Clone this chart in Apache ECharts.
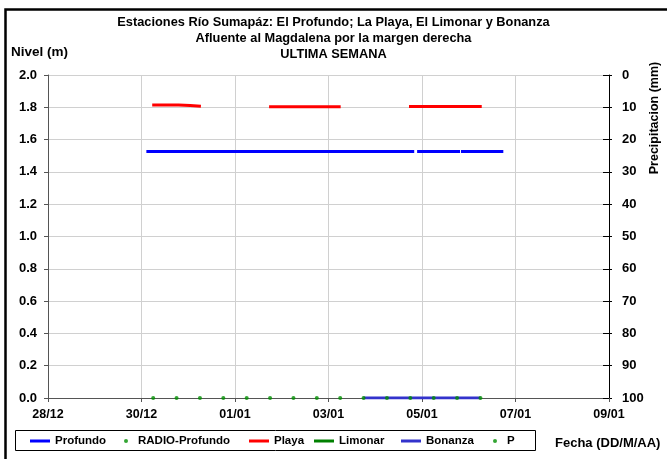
<!DOCTYPE html>
<html>
<head>
<meta charset="utf-8">
<script src="https://cdn.jsdelivr.net/npm/echarts@6/dist/echarts.min.js"></script>
<style>
html,body{margin:0;padding:0;background:#fff;}
#c{width:667px;height:459px;}
</style>
</head>
<body>
<div id="c"></div>
<script>
// ---- data ----
var titleLines = [
  'Estaciones Río Sumapáz: El Profundo; La Playa, El Limonar y Bonanza',
  'Afluente al Magdalena por la margen derecha',
  'ULTIMA SEMANA'
];
var xStart = '2023-12-28 00:00';
var xEnd = '2024-01-09 00:00';
var yLeftTicks = [0, 0.2, 0.4, 0.6, 0.8, 1.0, 1.2, 1.4, 1.6, 1.8, 2.0];
var yRightTicks = [0, 10, 20, 30, 40, 50, 60, 70, 80, 90, 100];

var profundo = [
  ['2023-12-30 02:30', 1.527], ['2024-01-04 20:00', 1.527], ['2024-01-04 20:30', '-'],
  ['2024-01-04 21:30', 1.527], ['2024-01-05 19:30', 1.527], ['2024-01-05 19:45', '-'],
  ['2024-01-05 20:00', 1.527], ['2024-01-06 17:45', 1.527]
];
var radioProfundo = [
  ['2023-12-30 06:00', 0], ['2023-12-30 18:00', 0], ['2023-12-31 06:00', 0],
  ['2023-12-31 18:00', 0], ['2024-01-01 06:00', 0], ['2024-01-01 18:00', 0],
  ['2024-01-02 06:00', 0], ['2024-01-02 18:00', 0], ['2024-01-03 06:00', 0],
  ['2024-01-03 18:00', 0], ['2024-01-04 06:00', 0], ['2024-01-04 18:00', 0],
  ['2024-01-05 06:00', 0], ['2024-01-05 18:00', 0], ['2024-01-06 06:00', 0]
];
var playa = [
  ['2023-12-30 05:30', 1.815], ['2023-12-30 19:00', 1.815],
  ['2023-12-30 19:15', 1.811],
  ['2023-12-31 01:00', 1.811], ['2023-12-31 01:15', 1.807], ['2023-12-31 06:30', 1.807],
  ['2024-01-01 00:00', '-'],
  ['2024-01-01 17:30', 1.804], ['2024-01-03 06:15', 1.804],
  ['2024-01-03 12:00', '-'],
  ['2024-01-04 17:20', 1.805], ['2024-01-06 06:40', 1.805]
];
var limonar = [];
var bonanza = [
  ['2024-01-03 18:00', 0], ['2024-01-06 06:00', 0]
];
var precip = [];

// ---- helpers ----
function ts(s) {
  var m = s.match(/(\d+)-(\d+)-(\d+) (\d+):(\d+)/);
  return Date.UTC(+m[1], +m[2] - 1, +m[3], +m[4], +m[5]);
}
function conv(arr) {
  return arr.map(function (d) { return [ts(d[0]), d[1]]; });
}
function pad(n) { return (n < 10 ? '0' : '') + n; }
var DAY = 86400000;
var FONT = 'Liberation Sans, Arial, sans-serif';
function bold(size) { return { fontFamily: FONT, fontWeight: 'bold', fontSize: size, color: '#000' }; }

var chart = echarts.init(document.getElementById('c'), null, { renderer: 'canvas' });

function lineLegend(name, left, color) {
  return {
    data: [name], left: left, top: 435, padding: 0, itemWidth: 20, itemHeight: 3,
    icon: 'rect', selectedMode: false,
    itemStyle: { color: color },
    textStyle: bold(11.5)
  };
}
function dotLegend(name, left, color) {
  return {
    data: [name], left: left, top: 435, padding: 0, itemWidth: 14, itemHeight: 4,
    icon: 'circle', selectedMode: false,
    itemStyle: { color: color },
    textStyle: bold(11.5)
  };
}

var option = {
  animation: false,
  backgroundColor: '#fff',
  title: {
    text: titleLines.join('\n'),
    left: 'center', top: 9,
    textStyle: Object.assign(bold(12.8), { lineHeight: 16 })
  },
  grid: { left: 48, right: 58, top: 75, bottom: 61 },
  legend: [
    lineLegend('Profundo', 30, '#0000ff'),
    dotLegend('RADIO-Profundo', 124, '#008f00'),
    lineLegend('Playa', 249, '#ff0000'),
    lineLegend('Limonar', 314, '#008000'),
    lineLegend('Bonanza', 401, '#3333cc'),
    dotLegend('P', 493, '#008f00')
  ],
  xAxis: {
    type: 'value',
    min: ts(xStart), max: ts(xEnd), interval: 2 * DAY,
    axisLine: { show: true, lineStyle: { color: '#555', width: 1 } },
    axisTick: { show: true, length: 4, lineStyle: { color: '#555' } },
    splitLine: { show: true, lineStyle: { color: '#d0d0d0', width: 1 } },
    axisLabel: Object.assign(bold(12.5), {
      margin: 10,
      formatter: function (v) { var d = new Date(v); return pad(d.getUTCDate()) + '/' + pad(d.getUTCMonth() + 1); }
    })
  },
  yAxis: [
    {
      type: 'value', min: 0, max: 2, interval: 0.2,
      axisLine: { show: true, lineStyle: { color: '#555' } },
      axisTick: { show: true, length: 4, lineStyle: { color: '#555' } },
      splitLine: { show: true, lineStyle: { color: '#d0d0d0', width: 1 } },
      axisLabel: Object.assign(bold(13), { margin: 11, formatter: function (v) { return v.toFixed(1); } })
    },
    {
      type: 'value', position: 'right', min: 0, max: 100, interval: 10, inverse: true,
      axisLine: { show: true, lineStyle: { color: '#000' } },
      axisTick: { show: true, length: 3, lineStyle: { color: '#000' } },
      splitLine: { show: false },
      axisLabel: Object.assign(bold(13), { margin: 13 })
    },
    {
      type: 'value', position: 'right', min: 0, max: 100, interval: 10, inverse: true,
      axisLine: { show: false },
      axisTick: { show: true, inside: true, length: 6, lineStyle: { color: '#000' } },
      splitLine: { show: false },
      axisLabel: { show: false }
    }
  ],
  series: [
    { name: 'Profundo', type: 'line', yAxisIndex: 0, data: conv(profundo), showSymbol: false, symbol: 'none',
      lineStyle: { color: '#0000ff', width: 3, cap: 'butt' }, itemStyle: { color: '#0000ff' }, connectNulls: false },
    { name: 'RADIO-Profundo', type: 'scatter', yAxisIndex: 0, data: conv(radioProfundo), symbol: 'circle', symbolSize: 4,
      itemStyle: { color: '#008f00' }, z: 5 },
    { name: 'Playa', type: 'line', yAxisIndex: 0, data: conv(playa), showSymbol: false, symbol: 'none',
      lineStyle: { color: '#ff0000', width: 3, cap: 'butt' }, itemStyle: { color: '#ff0000' }, connectNulls: false },
    { name: 'Limonar', type: 'line', yAxisIndex: 0, data: conv(limonar), showSymbol: false, symbol: 'none',
      lineStyle: { color: '#008000', width: 3 }, itemStyle: { color: '#008000' } },
    { name: 'Bonanza', type: 'line', yAxisIndex: 0, data: conv(bonanza), showSymbol: false, symbol: 'none',
      lineStyle: { color: '#3333cc', width: 3, cap: 'butt' }, itemStyle: { color: '#3333cc' }, z: 3 },
    { name: 'P', type: 'scatter', yAxisIndex: 1, data: conv(precip), symbol: 'circle', symbolSize: 3,
      itemStyle: { color: '#008f00' } }
  ],
  graphic: [
    { type: 'rect', left: 3, top: 7, shape: { x: 0, y: 0, width: 700, height: 470 },
      style: { fill: null, stroke: '#000', lineWidth: 2.5 }, silent: true },
    { type: 'rect', shape: { x: 15.5, y: 430.5, width: 520, height: 20 },
      style: { fill: null, stroke: '#000', lineWidth: 1 }, silent: true },
    { type: 'text', x: 11, y: 52, style: { text: 'Nivel (m)', verticalAlign: 'middle',
      font: 'bold 13.5px ' + FONT, fill: '#000' } },
    { type: 'text', x: 555, y: 443, style: { text: 'Fecha (DD/M/AA)', verticalAlign: 'middle',
      font: 'bold 13px ' + FONT, fill: '#000' } },
    { type: 'text', x: 655, y: 118, rotation: Math.PI / 2, style: { text: 'Precipitacion (mm)',
      align: 'center', verticalAlign: 'middle', font: 'bold 12.5px ' + FONT, fill: '#000' } }
  ]
};
chart.setOption(option);
</script>
</body>
</html>
